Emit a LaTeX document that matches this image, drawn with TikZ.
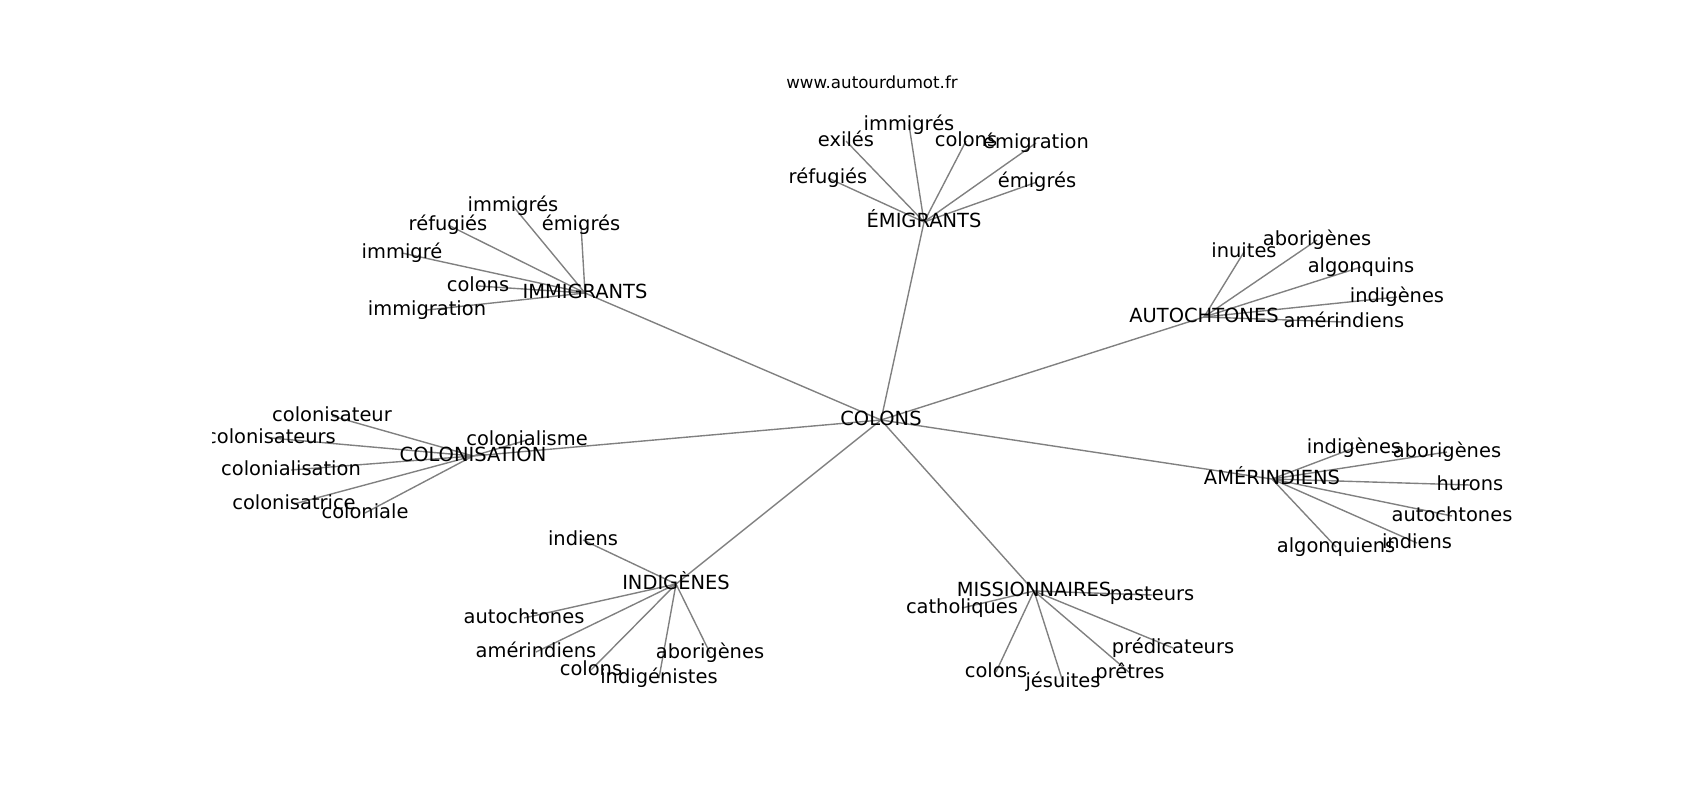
\documentclass[tikz,border=0pt]{standalone}
\usepackage{fontspec}
\setmainfont{DejaVu Sans}
\usetikzlibrary{backgrounds}

\begin{document}
\begin{tikzpicture}[x=0.72pt,y=-0.72pt,
		word/.style={inner sep=0pt,text height=1.02em,text depth=0.236em,font=\fontsize{14}{16}\selectfont},
		link/.style={draw=gray,line width=1pt}]
			\useasboundingbox (0,0) rectangle (1700,800);
			\node[word,font=\fontsize{12}{14}\selectfont] (site) at (872,83) {www.autourdumot.fr};
			\begin{scope}
			\clip (212.5,96) rectangle (1530,712);
			\node[word] (colons) at (881,420) {COLONS};
			\node[word] (emigrants) at (924,222) {ÉMIGRANTS};
			\node[word] (immigrants) at (585,293) {IMMIGRANTS};
			\node[word] (autochtones) at (1204,317) {AUTOCHTONES};
			\node[word] (colonisation) at (473,456) {COLONISATION};
			\node[word] (amerindiens) at (1272,479) {AMÉRINDIENS};
			\node[word] (indigenes) at (676,584) {INDIGÈNES};
			\node[word] (missionnaires) at (1034,591) {MISSIONNAIRES};
			\node[word] (em-immigres) at (909,125) {immigrés};
			\node[word] (em-exiles) at (846,141) {exilés};
			\node[word] (em-colons) at (966,141) {colons};
			\node[word] (em-emigration) at (1036,143) {émigration};
			\node[word] (em-refugies) at (828,178) {réfugiés};
			\node[word] (em-emigres) at (1037,182) {émigrés};
			\node[word] (im-immigres) at (513,206) {immigrés};
			\node[word] (im-refugies) at (448,225) {réfugiés};
			\node[word] (im-emigres) at (581,225) {émigrés};
			\node[word] (im-immigre) at (402,253) {immigré};
			\node[word] (im-colons) at (478,286) {colons};
			\node[word] (im-immigration) at (427,310) {immigration};
			\node[word] (au-inuites) at (1244,252) {inuites};
			\node[word] (au-aborigenes) at (1317,240) {aborigènes};
			\node[word] (au-algonquins) at (1361,267) {algonquins};
			\node[word] (au-indigenes) at (1397,297) {indigènes};
			\node[word] (au-amerindiens) at (1344,322) {amérindiens};
			\node[word] (co-colonialisme) at (527,440) {colonialisme};
			\node[word] (co-colonisateur) at (332,416) {colonisateur};
			\node[word] (co-colonisateurs) at (271,438) {colonisateurs};
			\node[word] (co-colonialisation) at (291,470) {colonialisation};
			\node[word] (co-colonisatrice) at (294,504) {colonisatrice};
			\node[word] (co-coloniale) at (365,513) {coloniale};
			\node[word] (am-indigenes) at (1354,448) {indigènes};
			\node[word] (am-aborigenes) at (1447,452) {aborigènes};
			\node[word] (am-hurons) at (1470,485) {hurons};
			\node[word] (am-autochtones) at (1452,516) {autochtones};
			\node[word] (am-indiens) at (1417,543) {indiens};
			\node[word] (am-algonquiens) at (1336,547) {algonquiens};
			\node[word] (in-indiens) at (583,540) {indiens};
			\node[word] (in-autochtones) at (524,618) {autochtones};
			\node[word] (in-amerindiens) at (536,652) {amérindiens};
			\node[word] (in-colons) at (591,670) {colons};
			\node[word] (in-indigenistes) at (659,678) {indigénistes};
			\node[word] (in-aborigenes) at (710,653) {aborigènes};
			\node[word] (mi-catholiques) at (962,608) {catholiques};
			\node[word] (mi-pasteurs) at (1152,595) {pasteurs};
			\node[word] (mi-predicateurs) at (1173,648) {prédicateurs};
			\node[word] (mi-colons) at (996,672) {colons};
			\node[word] (mi-jesuites) at (1063,682) {jésuites};
			\node[word] (mi-pretres) at (1130,673) {prêtres};
			\end{scope}
			\begin{scope}[on background layer]
			\draw[link] (colons.center) -- (emigrants.center);
			\draw[link] (colons.center) -- (immigrants.center);
			\draw[link] (colons.center) -- (autochtones.center);
			\draw[link] (colons.center) -- (colonisation.center);
			\draw[link] (colons.center) -- (amerindiens.center);
			\draw[link] (colons.center) -- (indigenes.center);
			\draw[link] (colons.center) -- (missionnaires.center);
			\draw[link] (emigrants.center) -- (em-immigres.center);
			\draw[link] (emigrants.center) -- (em-exiles.center);
			\draw[link] (emigrants.center) -- (em-colons.center);
			\draw[link] (emigrants.center) -- (em-emigration.center);
			\draw[link] (emigrants.center) -- (em-refugies.center);
			\draw[link] (emigrants.center) -- (em-emigres.center);
			\draw[link] (immigrants.center) -- (im-immigres.center);
			\draw[link] (immigrants.center) -- (im-refugies.center);
			\draw[link] (immigrants.center) -- (im-emigres.center);
			\draw[link] (immigrants.center) -- (im-immigre.center);
			\draw[link] (immigrants.center) -- (im-colons.center);
			\draw[link] (immigrants.center) -- (im-immigration.center);
			\draw[link] (autochtones.center) -- (au-inuites.center);
			\draw[link] (autochtones.center) -- (au-aborigenes.center);
			\draw[link] (autochtones.center) -- (au-algonquins.center);
			\draw[link] (autochtones.center) -- (au-indigenes.center);
			\draw[link] (autochtones.center) -- (au-amerindiens.center);
			\draw[link] (colonisation.center) -- (co-colonialisme.center);
			\draw[link] (colonisation.center) -- (co-colonisateur.center);
			\draw[link] (colonisation.center) -- (co-colonisateurs.center);
			\draw[link] (colonisation.center) -- (co-colonialisation.center);
			\draw[link] (colonisation.center) -- (co-colonisatrice.center);
			\draw[link] (colonisation.center) -- (co-coloniale.center);
			\draw[link] (amerindiens.center) -- (am-indigenes.center);
			\draw[link] (amerindiens.center) -- (am-aborigenes.center);
			\draw[link] (amerindiens.center) -- (am-hurons.center);
			\draw[link] (amerindiens.center) -- (am-autochtones.center);
			\draw[link] (amerindiens.center) -- (am-indiens.center);
			\draw[link] (amerindiens.center) -- (am-algonquiens.center);
			\draw[link] (indigenes.center) -- (in-indiens.center);
			\draw[link] (indigenes.center) -- (in-autochtones.center);
			\draw[link] (indigenes.center) -- (in-amerindiens.center);
			\draw[link] (indigenes.center) -- (in-colons.center);
			\draw[link] (indigenes.center) -- (in-indigenistes.center);
			\draw[link] (indigenes.center) -- (in-aborigenes.center);
			\draw[link] (missionnaires.center) -- (mi-catholiques.center);
			\draw[link] (missionnaires.center) -- (mi-pasteurs.center);
			\draw[link] (missionnaires.center) -- (mi-predicateurs.center);
			\draw[link] (missionnaires.center) -- (mi-colons.center);
			\draw[link] (missionnaires.center) -- (mi-jesuites.center);
			\draw[link] (missionnaires.center) -- (mi-pretres.center);
			\end{scope}
		\end{tikzpicture}
\end{document}
